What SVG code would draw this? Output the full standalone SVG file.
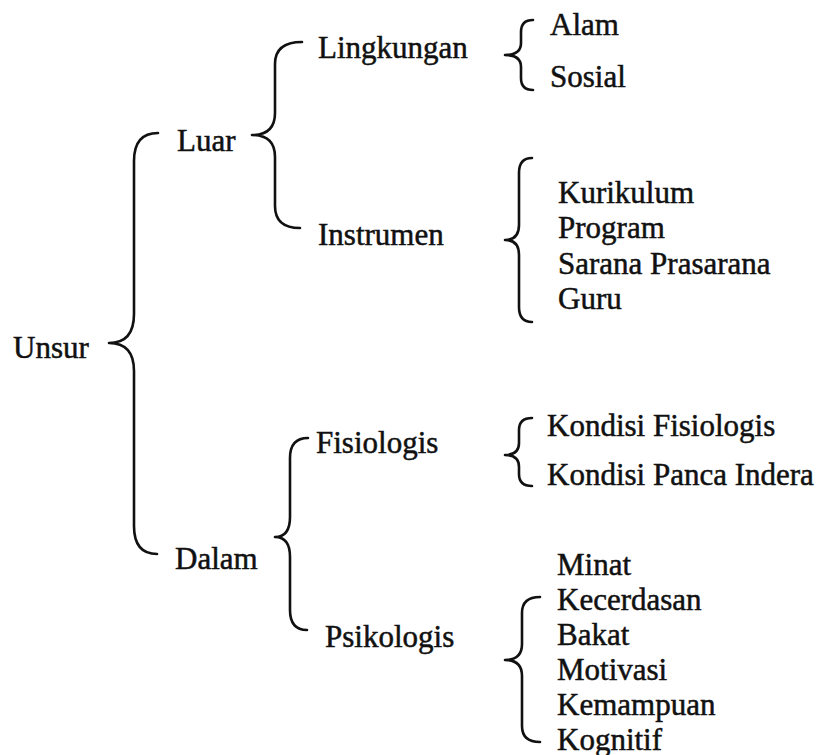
<svg xmlns="http://www.w3.org/2000/svg" width="820" height="755" viewBox="0 0 820 755">
<style>
text { font-family: "Liberation Serif", "Times New Roman", serif; font-size: 31px; fill: #111; stroke: #111; stroke-width: 0.5; }
.brace { fill: none; stroke: #111; stroke-width: 2.6; stroke-linecap: round; stroke-linejoin: round; }
</style>
<rect width="820" height="755" fill="#fff"/>
<g id="connectors">
<path class="brace" d="M158,133 Q134,133 134,161 L134,314 Q134,343 109,343 Q134,343 134,371 L134,526 Q134,554 157,554"/>
<path class="brace" d="M302,42 Q275,42 275,64 L275,113 Q275,135 252,135 Q275,135 275,157 L275,206 Q275,228 300,228"/>
<path class="brace" d="M308,438 Q290,438 290,458 L290,517 Q290,537 275,537 Q290,537 290,557 L290,610 Q290,630 307,630"/>
<path class="brace" d="M533,20 Q521,20 521,32 L521,43 Q521,55 505,55 Q521,55 521,67 L521,78 Q521,90 533,90"/>
<path class="brace" d="M532,158 Q519,158 519,173 L519,225 Q519,240 505,240 Q519,240 519,255 L519,307 Q519,322 532,322"/>
<path class="brace" d="M532,418 Q519,418 519,430 L519,443 Q519,455 505,455 Q519,455 519,467 L519,474 Q519,486 532,486"/>
<path class="brace" d="M540,597 Q522,597 522,613 L522,644 Q522,660 505,660 Q522,660 522,676 L522,726 Q522,742 540,742"/>
</g>
<g id="unsur"><text x="13" y="358">Unsur</text></g>
<g id="luar"><text x="177" y="151">Luar</text></g>
<g id="dalam"><text x="175" y="569">Dalam</text></g>
<g id="lingkungan"><text x="318" y="58">Lingkungan</text></g>
<g id="instrumen"><text x="318" y="245">Instrumen</text></g>
<g id="fisiologis"><text x="316" y="453">Fisiologis</text></g>
<g id="psikologis"><text x="325" y="647">Psikologis</text></g>
<g id="lingkungan-items">
<text x="550" y="35">Alam</text>
<text x="550" y="87">Sosial</text>
</g>
<g id="instrumen-items">
<text x="558" y="203">Kurikulum</text>
<text x="558" y="238">Program</text>
<text x="558" y="274">Sarana Prasarana</text>
<text x="558" y="309">Guru</text>
</g>
<g id="fisiologis-items">
<text x="547" y="436">Kondisi Fisiologis</text>
<text x="547" y="485">Kondisi Panca Indera</text>
</g>
<g id="psikologis-items">
<text x="557" y="575">Minat</text>
<text x="557" y="610">Kecerdasan</text>
<text x="557" y="645">Bakat</text>
<text x="557" y="680">Motivasi</text>
<text x="557" y="715">Kemampuan</text>
<text x="557" y="750">Kognitif</text>
</g>
</svg>
